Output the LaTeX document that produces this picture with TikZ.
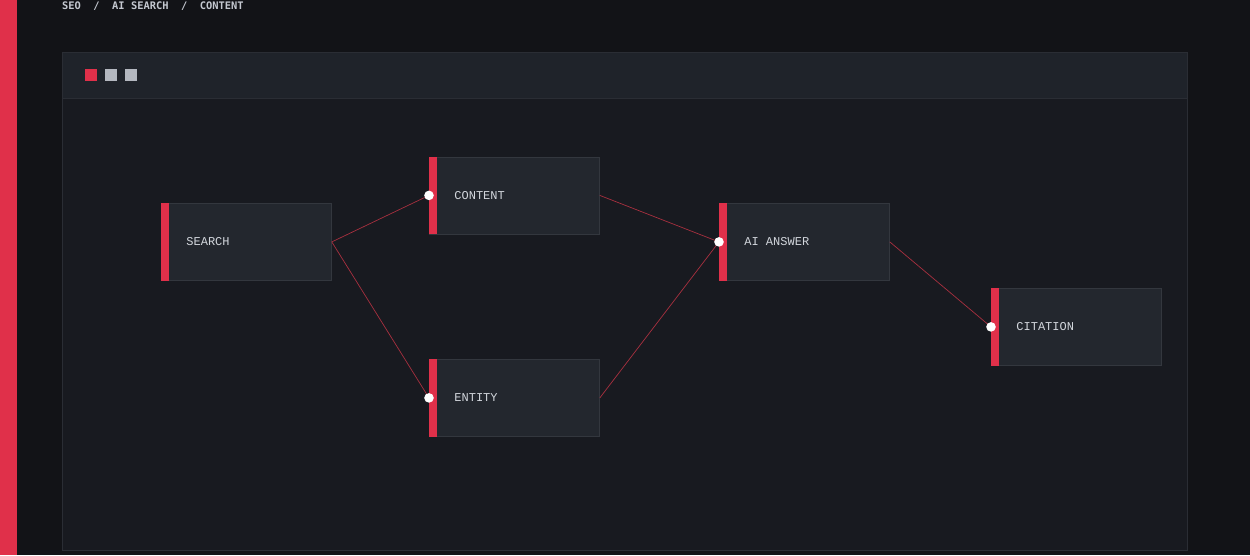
\documentclass[tikz,border=0pt]{standalone}
\usepackage{fontspec}
\setmonofont{DejaVu Sans Mono}
\newfontfamily\nodemono{Liberation Mono}
\definecolor{bgc}{HTML}{121317}
\definecolor{accent}{HTML}{E0304A}
\definecolor{winbody}{HTML}{181A20}
\definecolor{winbar}{HTML}{1F232A}
\definecolor{winborder}{HTML}{2A2D34}
\definecolor{nodefill}{HTML}{23272E}
\definecolor{nodeborder}{HTML}{33373E}
\definecolor{txt}{HTML}{D2D6DC}
\definecolor{crumb}{HTML}{C4C8D0}
\definecolor{greysq}{HTML}{B4B8C0}
\definecolor{edgec}{HTML}{A8303F}
\tikzset{
  x=1pt, y=-1pt,
  flowbox/.style={draw=nodeborder, line width=0.8pt, fill=nodefill, rectangle,
    minimum width=170pt, minimum height=77pt, inner xsep=0pt, inner ysep=0pt,
    text width=120pt, align=left, anchor=north west,
    font=\nodemono\fontsize{12}{13}\selectfont, text=txt},
  conn/.style={draw=edgec, line width=0.7pt},
  portdot/.style={fill=white},
}
\begin{document}
\begin{tikzpicture}
\useasboundingbox (0,0) rectangle (1250,555);
\fill[bgc] (0,0) rectangle (1250,555);
\fill[accent] (0,0) rectangle (17,555);
\node[anchor=west, inner sep=0pt, font=\ttfamily\bfseries\fontsize{10.4}{12}\selectfont, text=crumb] (crumb) at (62,6.5) {SEO\hspace{12.5pt}/\hspace{12.5pt}AI\hspace{6.25pt}SEARCH\hspace{12.5pt}/\hspace{12.5pt}CONTENT};
% window
\fill[winbody, draw=winborder, line width=1pt] (62.5,52.5) rectangle (1187.5,550.5);
\fill[winbar] (63,53) rectangle (1187,98);
\draw[winborder, line width=1pt] (63,98.5) -- (1187,98.5);
\fill[accent] (85,69) rectangle (97,81);
\fill[greysq] (105,69) rectangle (117,81);
\fill[greysq] (125,69) rectangle (137,81);
% nodes
\node[flowbox] (search) at (161,203) {SEARCH};
\node[flowbox] (content) at (429,156.5) {CONTENT};
\node[flowbox] (entity) at (429,359) {ENTITY};
\node[flowbox] (answer) at (719,203) {AI\hspace{7.2pt}ANSWER};
\node[flowbox] (citation) at (991,288) {CITATION};
\foreach \n in {search,content,entity,answer,citation}{
  \fill[accent] (\n.north west) rectangle ([xshift=8pt]\n.south west);
}
% connectors
\draw[conn] (search.east) -- (content.west);
\draw[conn] (search.east) -- (entity.west);
\draw[conn] (content.east) -- (answer.west);
\draw[conn] (entity.east) -- (answer.west);
\draw[conn] (answer.east) -- (citation.west);
\foreach \n in {content,entity,answer,citation}{
  \fill[portdot] (\n.west) circle (4.8pt);
}
\end{tikzpicture}
\end{document}
